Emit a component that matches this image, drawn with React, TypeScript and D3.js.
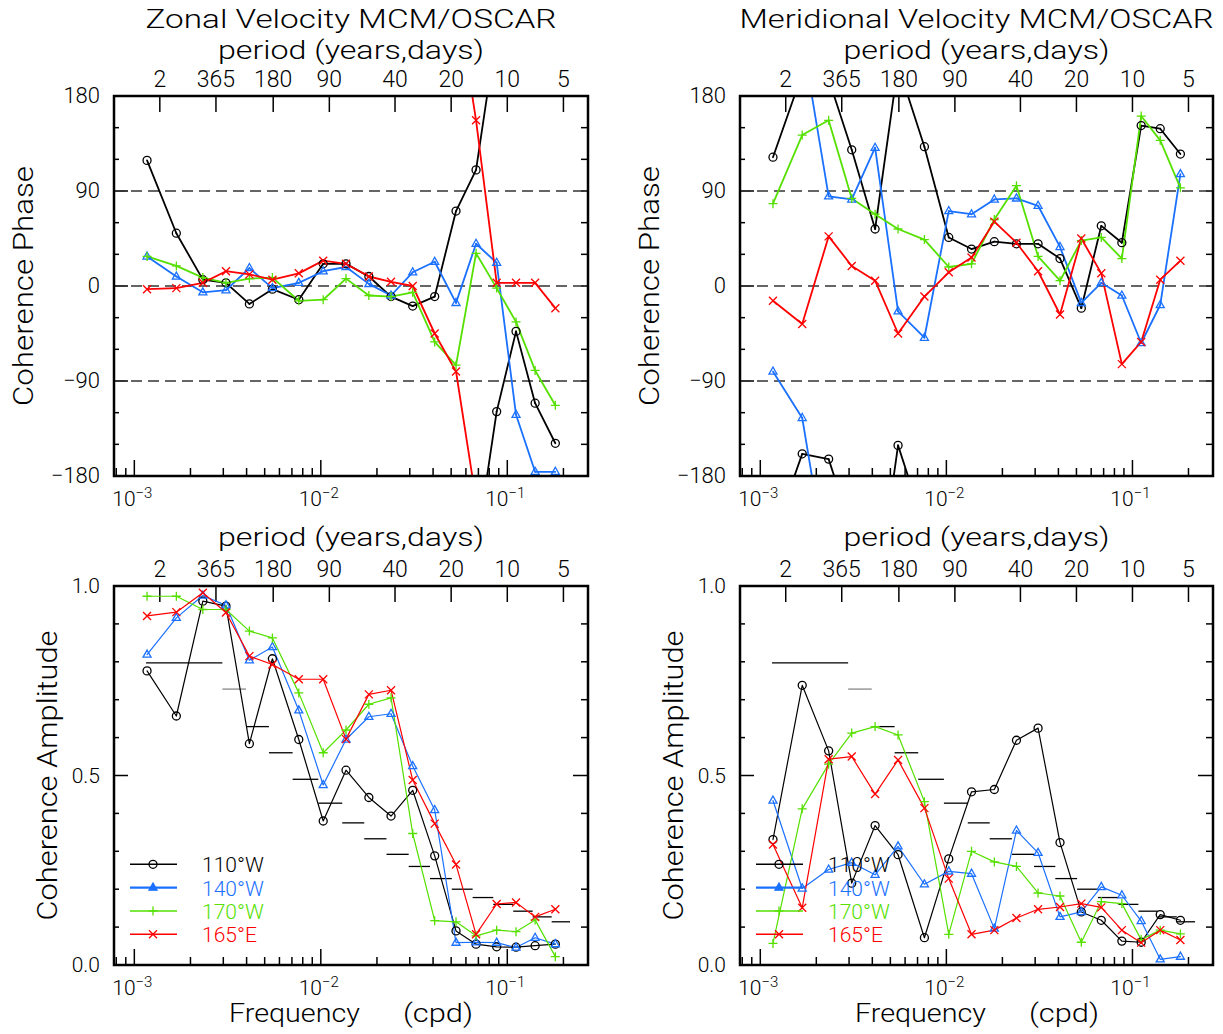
import React from 'react';
import * as d3 from 'd3';

// ---------- data ----------
const freqs = [0.00117, 0.00168, 0.00233, 0.0031, 0.00414, 0.0055, 0.00762, 0.0103, 0.01365, 0.0181, 0.0238, 0.0311, 0.0408, 0.0531, 0.068, 0.0877, 0.1114, 0.141, 0.181];

const stations = ['110°W', '140°W', '170°W', '165°E'];
const colors = ['#000000', '#1a70ff', '#55e000', '#ff0000'];
const markerKinds = ['circle', 'triangle', 'plus', 'cross'];

const zonalPhase110W = [119, 50, 6, 3, -17, -3, -13, 21, 21, 9, -10, -19, -10, 71, 110, -119, -43, -111, -149];
const zonalPhase140W = [28, 9, -6, -4, 17, -2, 3, 14, 18, 2, -9, 13, 23, -16, 40, 22, -122, -176, -176];
const zonalPhase170W = [28, 19, 8, 3, 7, 8, -14, -13, 7, -9, -10, -6, -53, -75, 31, -2, -34, -80, -113];
const zonalPhase165E = [-3, -2, 3, 14, 11, 6, 12, 24, 21, 9, 4, 0, -45, -81, 157, 3, 3, 3, -21];

const meridPhase110W = [122, -159, -164, 129, 54, -151, 132, 46, 35, 42, 40, 40, 26, -21, 57, 41, 152, 149, 125];
const meridPhase140W = [-81, -125, 85, 82, 131, -24, -49, 71, 68, 82, 83, 76, 37, -16, 3, -9, -54, -18, 106];
const meridPhase170W = [78, 143, 157, 83, 68, 54, 44, 18, 21, 63, 95, 28, 5, 43, 46, 26, 161, 138, 93];
const meridPhase165E = [-14, -36, 47, 19, 5, -45, -10, 13, 27, 61, 41, 14, -27, 45, 12, -74, -53, 6, 24];

const zonalAmp110W = [0.776, 0.657, 0.96, 0.947, 0.584, 0.808, 0.595, 0.38, 0.514, 0.442, 0.393, 0.461, 0.288, 0.09, 0.055, 0.048, 0.047, 0.051, 0.055];
const zonalAmp140W = [0.819, 0.916, 0.975, 0.949, 0.804, 0.839, 0.672, 0.475, 0.595, 0.655, 0.663, 0.525, 0.409, 0.059, 0.06, 0.059, 0.046, 0.072, 0.055];
const zonalAmp170W = [0.973, 0.973, 0.938, 0.938, 0.881, 0.863, 0.718, 0.56, 0.62, 0.688, 0.705, 0.347, 0.117, 0.114, 0.077, 0.092, 0.088, 0.119, 0.022];
const zonalAmp165E = [0.921, 0.931, 0.982, 0.93, 0.815, 0.793, 0.754, 0.754, 0.596, 0.714, 0.725, 0.488, 0.373, 0.265, 0.081, 0.161, 0.165, 0.127, 0.147];

const meridAmp110W = [0.331, 0.738, 0.565, 0.216, 0.368, 0.291, 0.072, 0.28, 0.457, 0.463, 0.593, 0.625, 0.323, 0.14, 0.118, 0.063, 0.06, 0.133, 0.118];
const meridAmp140W = [0.434, 0.202, 0.252, 0.27, 0.238, 0.313, 0.213, 0.247, 0.241, 0.096, 0.355, 0.296, 0.127, 0.14, 0.206, 0.184, 0.116, 0.015, 0.022];
const meridAmp170W = [0.057, 0.412, 0.53, 0.612, 0.629, 0.607, 0.431, 0.081, 0.3, 0.272, 0.26, 0.19, 0.182, 0.06, 0.167, 0.162, 0.067, 0.092, 0.082];
const meridAmp165E = [0.318, 0.151, 0.543, 0.55, 0.451, 0.541, 0.414, 0.228, 0.081, 0.092, 0.124, 0.147, 0.153, 0.162, 0.152, 0.092, 0.059, 0.092, 0.066];

// 95% significance level (step function over frequency bands)
const sigEdges = [0.001156, 0.002965, 0.00397, 0.00527, 0.00706, 0.0097, 0.01303, 0.0171, 0.0225, 0.0296, 0.0385, 0.0504, 0.0652, 0.0841, 0.1076, 0.1368, 0.173, 0.217];
const sigLevels = [0.797, 0.728, 0.629, 0.56, 0.49, 0.427, 0.375, 0.333, 0.292, 0.26, 0.228, 0.2, 0.178, 0.16, 0.142, 0.127, 0.114];

const periodDays = [730, 365, 180, 90, 40, 20, 10, 5];
const periodLabels = ['2', '365', '180', '90', '40', '20', '10', '5'];
const decades = [1e-3, 1e-2, 1e-1];
const decadeExp = ['−3', '−2', '−1'];
const phaseTicks = [-180, -90, 0, 90, 180];
const phaseTickLabels = ['−180', '−90', '0', '90', '180'];
const ampTicks = [0, 0.5, 1];
const ampTickLabels = ['0.0', '0.5', '1.0'];

const FONT = 'Roboto, "Liberation Sans", Arial, sans-serif';
const FW = 300;

type PanelProps = {
  id: string;
  x0: number; x1: number; y0: number; y1: number;
  kind: 'phase' | 'amp';
  series: number[][];
  title?: string;
  titleLen?: number;
};

function Marker({ kind, x, y, color, filled, lw }: any) {
  const r = 4;
  if (kind === 'circle') return <circle cx={x} cy={y} r={r} fill="none" stroke={color} strokeWidth={lw} />;
  if (kind === 'triangle')
    return <path d={`M${x},${y - 4.5}L${x + 4},${y + 2.6}L${x - 4},${y + 2.6}Z`} fill={filled ? color : 'none'} stroke={color} strokeWidth={lw} />;
  if (kind === 'plus')
    return <path d={`M${x - 4.5},${y}H${x + 4.5}M${x},${y - 4.5}V${y + 4.5}`} stroke={color} strokeWidth={lw} fill="none" />;
  return <path d={`M${x - 4},${y - 4}L${x + 4},${y + 4}M${x - 4},${y + 4}L${x + 4},${y - 4}`} stroke={color} strokeWidth={lw} fill="none" />;
}

function phaseSegments(vals: number[]) {
  const segs: [number, number][][] = [];
  for (let i = 0; i < vals.length - 1; i++) {
    const f1 = freqs[i], f2 = freqs[i + 1];
    const p1 = vals[i], p2 = vals[i + 1];
    const d = p2 - p1;
    if (d > 180) {
      segs.push([[f1, p1], [f2, p2 - 360]]);
      segs.push([[f1, p1 + 360], [f2, p2]]);
    } else if (d < -180) {
      segs.push([[f1, p1], [f2, p2 + 360]]);
      segs.push([[f1, p1 - 360], [f2, p2]]);
    } else segs.push([[f1, p1], [f2, p2]]);
  }
  return segs;
}

function Panel({ id, x0, x1, y0, y1, kind, series, title, titleLen }: PanelProps) {
  const x = d3.scaleLog().domain([7.78e-4, 0.2709]).range([x0, x1]);
  const y = kind === 'phase'
    ? d3.scaleLinear().domain([-180, 180]).range([y1, y0])
    : d3.scaleLinear().domain([0, 1]).range([y1, y0]);
  const cx = (x0 + x1) / 2;
  const cy = (y0 + y1) / 2;
  const lw = kind === 'phase' ? 1.8 : 1.2;
  const line = d3.line<[number, number]>().x(d => x(d[0])).y(d => y(d[1]));

  const minorTicks: number[] = [];
  for (const dec of [1e-4, 1e-3, 1e-2, 1e-1]) {
    for (let k = 2; k <= 9; k++) {
      const v = dec * k;
      if (v > 7.8e-4 && v < 0.27) minorTicks.push(v);
    }
  }
  const yMinor = kind === 'phase' ? d3.range(-150, 180, 30) : d3.range(1, 10).map(v => v / 10);
  const yMajorInner = kind === 'phase' ? [-90, 0, 90] : [0.5];
  const periodTitleY = title ? y0 - 37 : y0 - 40;

  return (
    <g fontFamily={FONT} fontWeight={FW}>
      <defs>
        <clipPath id={id}>
          <rect x={x0} y={y0} width={x1 - x0} height={y1 - y0} />
        </clipPath>
      </defs>
      {title && (
        <text x={cx} y={28} textAnchor="middle" fontSize={25} textLength={titleLen} lengthAdjust="spacingAndGlyphs">{title}</text>
      )}
      <text x={cx} y={periodTitleY} textAnchor="middle" fontSize={25} textLength={266} lengthAdjust="spacingAndGlyphs">period  (years,days)</text>
      {periodDays.map((p, i) => (
        <g key={p}>
          <line x1={x(1 / p)} x2={x(1 / p)} y1={y0} y2={y0 + 16} stroke="#000" strokeWidth={1.5} />
          <text x={x(1 / p)} y={y0 - 9} textAnchor="middle" fontSize={23}>{periodLabels[i]}</text>
        </g>
      ))}
      {/* bottom axis */}
      {decades.map((d, i) => (
        <g key={d}>
          <line x1={x(d)} x2={x(d)} y1={y1} y2={y1 - 16} stroke="#000" strokeWidth={1.5} />
          <text x={x(d) - 2} y={y1 + 30} textAnchor="middle" fontSize={21}>
            10<tspan dy={-8} fontSize={15}>{decadeExp[i]}</tspan>
          </text>
        </g>
      ))}
      {minorTicks.map(v => (
        <line key={v} x1={x(v)} x2={x(v)} y1={y1} y2={y1 - 8} stroke="#000" strokeWidth={1.5} />
      ))}
      {/* y ticks */}
      {yMinor.map(v => (
        <g key={v}>
          <line x1={x0} x2={x0 + (yMajorInner.includes(v) ? 14 : 5)} y1={y(v)} y2={y(v)} stroke="#000" strokeWidth={1.5} />
          <line x1={x1} x2={x1 - (kind === 'amp' && v === 0.5 ? 15 : 7)} y1={y(v)} y2={y(v)} stroke="#000" strokeWidth={1.5} />
        </g>
      ))}
      {(kind === 'phase' ? phaseTicks : ampTicks).map((v, i) => (
        <text key={v} x={x0 - 14} y={y(v) + 7} textAnchor="end" fontSize={kind === 'phase' ? 22 : 21}>
          {(kind === 'phase' ? phaseTickLabels : ampTickLabels)[i]}
        </text>
      ))}
      <text
        transform={`translate(${kind === 'phase' ? x0 - 81 : x0 - 57},${cy}) rotate(-90)`}
        textAnchor="middle"
        fontSize={27}
        textLength={kind === 'phase' ? 240 : 290}
        lengthAdjust="spacingAndGlyphs"
      >
        {kind === 'phase' ? 'Coherence  Phase' : 'Coherence  Amplitude'}
      </text>
      {kind === 'amp' && (
        <g>
          <text x={x0 + 115} y={1022} fontSize={26} textLength={131} lengthAdjust="spacingAndGlyphs">Frequency</text>
          <text x={x0 + 289} y={1022} fontSize={26} textLength={70} lengthAdjust="spacingAndGlyphs">(cpd)</text>
        </g>
      )}
      {/* reference lines */}
      {kind === 'phase' && [-90, 0, 90].map(v => (
        <line key={v} x1={x0} x2={x1} y1={y(v)} y2={y(v)} stroke="#333" strokeWidth={1.5} strokeDasharray="11,6" />
      ))}
      {kind === 'amp' && sigLevels.map((s, i) => (
        <line key={i} x1={x(sigEdges[i])} x2={x(sigEdges[i + 1])} y1={y(s)} y2={y(s)} stroke={i === 1 ? '#888' : '#000'} strokeWidth={1.3} />
      ))}
      {/* data */}
      <g clipPath={`url(#${id})`}>
        {series.map((vals, si) => {
          const segs = kind === 'phase'
            ? phaseSegments(vals)
            : [vals.map((v, i) => [freqs[i], v] as [number, number])];
          return (
            <g key={si}>
              {segs.map((s, k) => (
                <path key={k} d={line(s) || ''} fill="none" stroke={colors[si]} strokeWidth={lw} strokeLinejoin="round" strokeLinecap="round" />
              ))}
            </g>
          );
        })}
      </g>
      {series.map((vals, si) => (
        <g key={'m' + si}>
          {vals.map((v, i) => (
            <Marker key={i} kind={markerKinds[si]} x={x(freqs[i])} y={y(v)} color={colors[si]} lw={1.3} />
          ))}
        </g>
      ))}
      {kind === 'amp' && stations.map((s, i) => {
        const ly = 864.3 + i * 23.3;
        return (
          <g key={s}>
            <line x1={x0 + 16} x2={x0 + 63} y1={ly} y2={ly} stroke={colors[i]} strokeWidth={i === 1 ? 2.2 : 1.5} />
            <Marker kind={markerKinds[i]} x={x0 + 39} y={ly} color={colors[i]} filled={true} lw={1.3} />
            <text x={x0 + 88} y={ly + 8} fontSize={21} fill={colors[i]}>{s}</text>
          </g>
        );
      })}
      <rect x={x0} y={y0} width={x1 - x0} height={y1 - y0} fill="none" stroke="#000" strokeWidth={2.5} />
    </g>
  );
}

export default function App() {
  return (
    <svg width={1223} height={1034} style={{ position: 'absolute', left: 0, top: 0, background: '#fff' }}>
      <rect width={1223} height={1034} fill="#fff" />
      <Panel id="c1" x0={114} x1={588} y0={96} y1={476} kind="phase"
        series={[zonalPhase110W, zonalPhase140W, zonalPhase170W, zonalPhase165E]}
        title="Zonal  Velocity  MCM/OSCAR" titleLen={411} />
      <Panel id="c2" x0={740} x1={1213} y0={96} y1={476} kind="phase"
        series={[meridPhase110W, meridPhase140W, meridPhase170W, meridPhase165E]}
        title="Meridional  Velocity  MCM/OSCAR" titleLen={474} />
      <Panel id="c3" x0={114} x1={588} y0={586} y1={965} kind="amp"
        series={[zonalAmp110W, zonalAmp140W, zonalAmp170W, zonalAmp165E]} />
      <Panel id="c4" x0={740} x1={1213} y0={586} y1={965} kind="amp"
        series={[meridAmp110W, meridAmp140W, meridAmp170W, meridAmp165E]} />
    </svg>
  );
}
